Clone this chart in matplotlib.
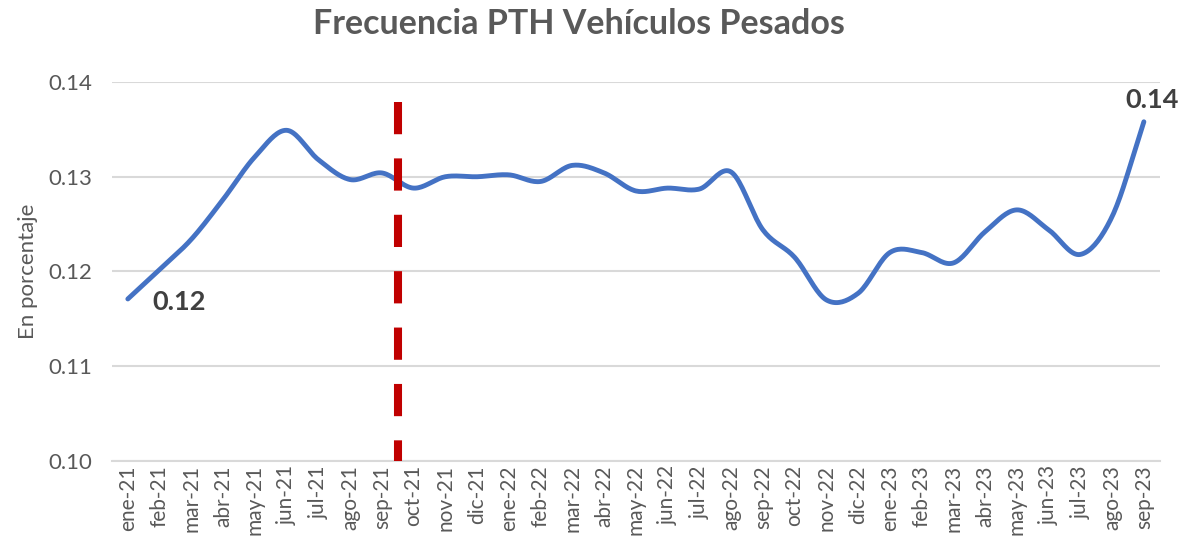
import numpy as np
import matplotlib.pyplot as plt

plt.rcParams['font.family'] = ['Lato', 'DejaVu Sans']

meses = ["ene-21", "feb-21", "mar-21", "abr-21", "may-21", "jun-21", "jul-21", "ago-21",
         "sep-21", "oct-21", "nov-21", "dic-21", "ene-22", "feb-22", "mar-22", "abr-22",
         "may-22", "jun-22", "jul-22", "ago-22", "sep-22", "oct-22", "nov-22", "dic-22",
         "ene-23", "feb-23", "mar-23", "abr-23", "may-23", "jun-23", "jul-23", "ago-23",
         "sep-23"]
frecuencia = [0.1171, 0.1202, 0.1234, 0.1276, 0.1321, 0.1349, 0.1318, 0.1297,
              0.1304, 0.1288, 0.1300, 0.1300, 0.1302, 0.1295, 0.1312, 0.1304,
              0.1285, 0.1288, 0.1287, 0.1305, 0.1244, 0.1215, 0.1170, 0.1177,
              0.1220, 0.1220, 0.1209, 0.1242, 0.1265, 0.1244, 0.1218, 0.1258,
              0.1358]
corte = 8.5          # entre sep-21 y oct-21
corte_tope = 0.1379


def suavizar(x, y, n=20):
    # catmull-rom, parecido al "linea suavizada" de excel
    x = np.asarray(x, float)
    y = np.asarray(y, float)
    px = np.concatenate([[2 * x[0] - x[1]], x, [2 * x[-1] - x[-2]]])
    py = np.concatenate([[2 * y[0] - y[1]], y, [2 * y[-1] - y[-2]]])
    xs, ys = [], []
    t = np.linspace(0, 1, n, endpoint=False)
    for i in range(1, len(px) - 2):
        for p, out in ((px, xs), (py, ys)):
            p0, p1, p2, p3 = p[i - 1], p[i], p[i + 1], p[i + 2]
            out.extend(0.5 * (2 * p1 + (-p0 + p2) * t + (2 * p0 - 5 * p1 + 4 * p2 - p3) * t ** 2
                              + (-p0 + 3 * p1 - 3 * p2 + p3) * t ** 3))
    xs.append(x[-1])
    ys.append(y[-1])
    return np.array(xs), np.array(ys)


gris = '#595959'
fig = plt.figure(figsize=(11.81, 5.44), dpi=100)
ax = fig.add_axes([0.0948, 0.1526, 0.8872, 0.6967])

x = np.arange(len(meses))
sx, sy = suavizar(x, frecuencia)
ax.plot(sx, sy, color='#4472C4', lw=3.5, solid_capstyle='round', zorder=3)

linea, = ax.plot([corte, corte], [corte_tope, 0.10], color='#C00000', lw=5.8, zorder=4)
linea.set_dashes([4.0, 3.0])
linea.set_dash_capstyle('butt')

ax.set_xlim(-0.5, len(meses) - 0.5)
ax.set_ylim(0.10, 0.14)
ax.set_yticks([0.10, 0.11, 0.12, 0.13, 0.14])
ax.set_yticklabels([f"{v:.2f}" for v in [0.10, 0.11, 0.12, 0.13, 0.14]])
ax.set_xticks(x)
ax.set_xticklabels(meses, rotation=90)
ax.tick_params(axis='both', length=0, colors=gris)
ax.tick_params(axis='y', pad=14, labelsize=16)
ax.tick_params(axis='x', pad=3, labelsize=15)
ax.grid(axis='y', color='#D9D9D9', lw=1.5)
ax.set_axisbelow(True)
for s in ['top', 'right', 'left']:
    ax.spines[s].set_visible(False)
ax.spines['bottom'].set_color('#D9D9D9')
ax.spines['bottom'].set_linewidth(1.5)

ax.set_ylabel("En porcentaje", color=gris, fontsize=16, labelpad=8)
fig.suptitle("Frecuencia PTH Vehículos Pesados", color=gris, fontsize=24.5,
             fontweight='bold', x=0.49, y=0.985)

ax.annotate(f"{frecuencia[0]:.2f}", (x[0], frecuencia[0]), xytext=(18, -2),
            textcoords='offset points', fontsize=19.5, fontweight='bold', color='#404040',
            va='center')
ax.annotate(f"{frecuencia[-1]:.2f}", (x[-1], frecuencia[-1]), xytext=(6, 16),
            textcoords='offset points', fontsize=19.5, fontweight='bold', color='#404040',
            ha='center', va='center', annotation_clip=False)

fig.savefig('out.png', dpi=100)
